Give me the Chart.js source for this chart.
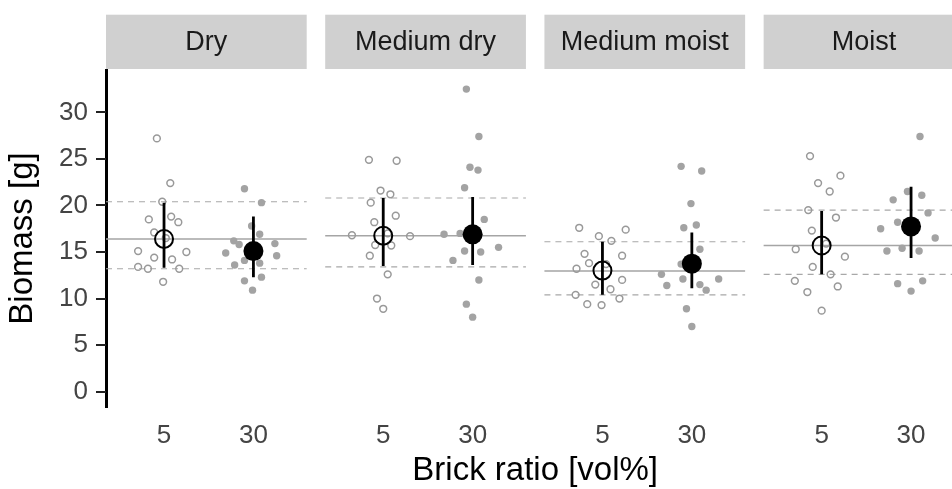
<!DOCTYPE html>
<html>
<head>
<meta charset="utf-8">
<script src="https://cdn.jsdelivr.net/npm/chart.js@4.4.1/dist/chart.umd.min.js"></script>
<style>
  html, body { margin: 0; padding: 0; background: #fff; overflow: hidden; width: 952px; height: 489px; }
  canvas { display: block; }
</style>
</head>
<body>
<canvas id="c" width="952" height="489"></canvas>
<script>
// ---- Data ----
const panels = ['Dry', 'Medium dry', 'Medium moist', 'Moist'];
const ratioLabels = ['5', '30'];
const yTickValues = [0, 5, 10, 15, 20, 25, 30];
const xTitle = 'Brick ratio [vol%]';
const yTitle = 'Biomass [g]';

// individual plants, brick ratio 5 vol% (open) and 30 vol% (filled); jitter = horizontal offset in category units
const dry5 = [27.2, 22.4, 20.4, 18.5, 18.8, 18.2, 17.1, 16.5, 15.1, 15.0, 14.4, 14.2, 13.4, 13.2, 13.2, 11.8];
const dry5Jitter = [-0.08, 0.07, -0.02, -0.17, 0.08, 0.16, -0.11, 0.02, -0.29, 0.25, -0.11, 0.09, -0.29, -0.18, 0.17, -0.01];
const dry30 = [21.8, 20.3, 17.8, 16.9, 16.2, 15.8, 15.9, 14.9, 14.6, 14.1, 13.8, 13.6, 11.9, 12.3, 10.9];
const dry30Jitter = [-0.10, 0.09, -0.02, 0.07, -0.22, -0.16, 0.24, -0.31, 0.26, -0.10, 0.07, -0.21, -0.10, 0.09, -0.01];

const medDry5 = [24.9, 24.8, 21.6, 21.2, 20.3, 18.9, 18.2, 16.8, 16.7, 17.0, 15.75, 15.7, 14.6, 12.6, 10.0, 8.9];
const medDry5Jitter = [-0.16, 0.15, -0.03, 0.08, -0.14, 0.14, -0.10, -0.35, 0.30, 0.05, -0.09, 0.09, -0.15, 0.05, -0.07, 0.00];
const medDry30 = [32.5, 27.4, 24.1, 23.8, 21.9, 18.5, 16.9, 17.0, 15.5, 15.1, 15.0, 14.1, 12.0, 9.4, 8.0];
const medDry30Jitter = [-0.07, 0.07, -0.03, 0.06, -0.09, 0.13, -0.32, -0.14, 0.29, -0.09, 0.09, -0.22, 0.07, -0.07, 0.00];

const medMoist5 = [17.6, 17.4, 16.7, 16.2, 14.8, 14.6, 13.8, 13.2, 13.7, 12.0, 11.5, 11.0, 10.4, 10.0, 9.4, 9.3];
const medMoist5Jitter = [-0.26, 0.26, -0.04, 0.10, -0.20, 0.22, -0.15, -0.29, 0.04, 0.22, -0.08, 0.09, -0.30, 0.19, -0.17, -0.01];
const medMoist30 = [24.2, 23.7, 20.2, 17.6, 17.9, 15.3, 13.7, 12.6, 11.4, 12.1, 11.5, 10.9, 12.1, 8.9, 7.0];
const medMoist30Jitter = [-0.12, 0.11, -0.01, -0.09, 0.05, 0.09, -0.12, -0.34, -0.28, -0.10, 0.09, 0.16, 0.30, -0.06, 0.00];

const moist5 = [25.3, 23.2, 22.4, 21.5, 19.5, 18.7, 17.3, 15.9, 15.3, 14.5, 13.4, 12.6, 11.9, 11.3, 10.7, 8.7];
const moist5Jitter = [-0.13, 0.21, -0.04, 0.09, -0.15, 0.16, -0.11, 0.05, -0.29, 0.26, -0.10, 0.10, -0.30, 0.18, -0.16, 0.00];
const moist30 = [27.4, 20.6, 21.5, 21.1, 19.2, 18.2, 17.5, 16.5, 15.1, 15.4, 15.1, 11.6, 11.9, 10.8];
const moist30Jitter = [0.10, -0.20, -0.04, 0.12, 0.19, -0.15, -0.34, 0.27, -0.27, -0.10, 0.09, -0.15, 0.13, 0.00];

// group means with error bars (per panel)
const mean5 = [16.4, 16.75, 13.0, 15.7];
const low5 = [13.3, 13.5, 10.4, 12.6];
const high5 = [20.3, 20.8, 16.1, 19.4];
const mean30 = [15.1, 16.9, 13.75, 17.75];
const low30 = [12.3, 13.6, 11.1, 14.35];
const high30 = [18.8, 20.9, 17.1, 22.0];

// panel-wide reference lines
const panelMean = [16.4, 16.75, 12.95, 15.7];
const panelLow = [13.2, 13.4, 10.4, 12.6];
const panelHigh = [20.4, 20.8, 16.1, 19.5];

// ---- Layout of the faceted x axis (axis units) ----
const panelStep = 2.452;
const panelStart = 0.351;
const panelEnd = 2.596;
const xMax = 9.814;
const FONT = '"Liberation Sans", Arial, Helvetica, sans-serif';

const values5 = [dry5, medDry5, medMoist5, moist5];
const jitter5 = [dry5Jitter, medDry5Jitter, medMoist5Jitter, moist5Jitter];
const values30 = [dry30, medDry30, medMoist30, moist30];
const jitter30 = [dry30Jitter, medDry30Jitter, medMoist30Jitter, moist30Jitter];

const catX = (p, c) => p * panelStep + c;

const pts5 = [], pts30 = [];
panels.forEach((_, p) => {
  values5[p].forEach((v, i) => pts5.push({ x: catX(p, 1) + jitter5[p][i], y: v }));
  values30[p].forEach((v, i) => pts30.push({ x: catX(p, 2) + jitter30[p][i], y: v }));
});

const errPts = [];
panels.forEach((_, p) => {
  errPts.push({ x: catX(p, 1), y: low5[p] }, { x: catX(p, 1), y: high5[p] }, { x: catX(p, 1), y: null });
  errPts.push({ x: catX(p, 2), y: low30[p] }, { x: catX(p, 2), y: high30[p] }, { x: catX(p, 2), y: null });
});

function hLine(arr) {
  const out = [];
  panels.forEach((_, p) => {
    out.push({ x: catX(p, panelStart), y: arr[p] }, { x: catX(p, panelEnd), y: arr[p] }, { x: catX(p, panelEnd), y: null });
  });
  return out;
}

const facetPlugin = {
  id: 'facets',
  afterDraw(chart) {
    const { ctx, chartArea, scales } = chart;
    const x = scales.x, y = scales.y;
    ctx.save();
    // y tick marks just left of the axis line
    ctx.strokeStyle = '#222';
    ctx.lineWidth = 2;
    ctx.setLineDash([]);
    yTickValues.forEach(v => {
      const py = Math.round(y.getPixelForValue(v));
      ctx.beginPath();
      ctx.moveTo(y.right - 10, py);
      ctx.lineTo(y.right, py);
      ctx.stroke();
    });
    // strips above each facet
    panels.forEach((name, p) => {
      const l = x.getPixelForValue(catX(p, panelStart));
      const r = x.getPixelForValue(catX(p, panelEnd));
      const h = 54.3;
      const top = chartArea.top - 55.3;
      ctx.fillStyle = '#d0d0d0';
      ctx.fillRect(l, top, r - l, h);
      ctx.fillStyle = '#1a1a1a';
      ctx.font = '27px ' + FONT;
      ctx.textAlign = 'center';
      ctx.textBaseline = 'middle';
      ctx.fillText(name, (l + r) / 2, top + h / 2 + 1);
    });
    // x axis title, centred on the full facet row
    const first = x.getPixelForValue(catX(0, panelStart));
    const last = x.getPixelForValue(catX(panels.length - 1, panelEnd));
    ctx.fillStyle = '#000';
    ctx.font = '33px ' + FONT;
    ctx.textAlign = 'center';
    ctx.textBaseline = 'middle';
    ctx.fillText(xTitle, (first + last) / 2, chartArea.bottom + 64);
    ctx.restore();
  }
};

new Chart(document.getElementById('c'), {
  type: 'scatter',
  data: {
    datasets: [
      { label: 'mean 5', data: mean5.map((m, p) => ({ x: catX(p, 1), y: m })), pointRadius: 9, pointBorderWidth: 2,
        pointBorderColor: '#000', pointBackgroundColor: 'rgba(0,0,0,0)', order: 0 },
      { label: 'mean 30', data: mean30.map((m, p) => ({ x: catX(p, 2), y: m })), pointRadius: 10, pointBorderWidth: 0,
        pointBackgroundColor: '#000', pointBorderColor: '#000', order: 0 },
      { label: 'error', data: errPts, showLine: true, spanGaps: false, pointRadius: 0, borderColor: '#000',
        borderWidth: 2.8, order: 1 },
      { label: '5', data: pts5, pointRadius: 3.4, pointBorderWidth: 1.5, pointBorderColor: '#999',
        pointBackgroundColor: 'rgba(255,255,255,0)', order: 2 },
      { label: '30', data: pts30, pointRadius: 3.7, pointBorderWidth: 0, pointBorderColor: '#a3a3a3',
        pointBackgroundColor: '#a3a3a3', order: 2 },
      { label: 'panel mean', data: hLine(panelMean), showLine: true, spanGaps: false, pointRadius: 0,
        borderColor: '#a5a5a5', borderWidth: 1.5, order: 3 },
      { label: 'panel high', data: hLine(panelHigh), showLine: true, spanGaps: false, pointRadius: 0,
        borderColor: '#a8a8a8', borderWidth: 1.2, borderDash: [6, 5], order: 3 },
      { label: 'panel low', data: hLine(panelLow), showLine: true, spanGaps: false, pointRadius: 0,
        borderColor: '#a8a8a8', borderWidth: 1.2, borderDash: [6, 5], order: 3 }
    ]
  },
  options: {
    responsive: false,
    animation: false,
    devicePixelRatio: 1,
    events: [],
    layout: { autoPadding: false, padding: { top: 70, left: 0, right: 0, bottom: 0 } },
    plugins: { legend: { display: false }, tooltip: { enabled: false } },
    scales: {
      x: {
        type: 'linear',
        min: panelStart,
        max: xMax,
        afterBuildTicks: s => {
          const t = [];
          panels.forEach((_, p) => { t.push({ value: catX(p, 1) }, { value: catX(p, 2) }); });
          s.ticks = t;
        },
        afterFit: s => { s.height = 82; s.paddingLeft = 0; s.paddingRight = 0; },
        grid: { display: false, drawTicks: false },
        border: { display: false },
        ticks: {
          padding: 13, color: '#444', autoSkip: false, maxRotation: 0,
          font: { family: FONT, size: 26 },
          callback: (v, i) => ratioLabels[i % 2]
        },
        title: { display: false }
      },
      y: {
        type: 'linear',
        min: -1.65,
        max: 34.55,
        afterBuildTicks: s => { s.ticks = yTickValues.map(v => ({ value: v })); },
        afterFit: s => { s.width = 106; s.paddingTop = 0; s.paddingBottom = 0; },
        grid: { display: true, drawOnChartArea: false, drawTicks: true, tickLength: 9,
                color: '#2b2b2b', tickColor: '#2b2b2b', lineWidth: 2, tickWidth: 2 },
        border: { display: true, color: '#000', width: 3 },
        ticks: {
          padding: 9, color: '#444',
          font: { family: FONT, size: 26 },
          callback: v => String(v)
        },
        title: {
          display: true, text: yTitle, color: '#000',
          font: { family: FONT, size: 33, lineHeight: 1 },
          padding: { top: 6.5, bottom: 0 }
        }
      }
    }
  },
  plugins: [facetPlugin]
});
</script>
</body>
</html>
